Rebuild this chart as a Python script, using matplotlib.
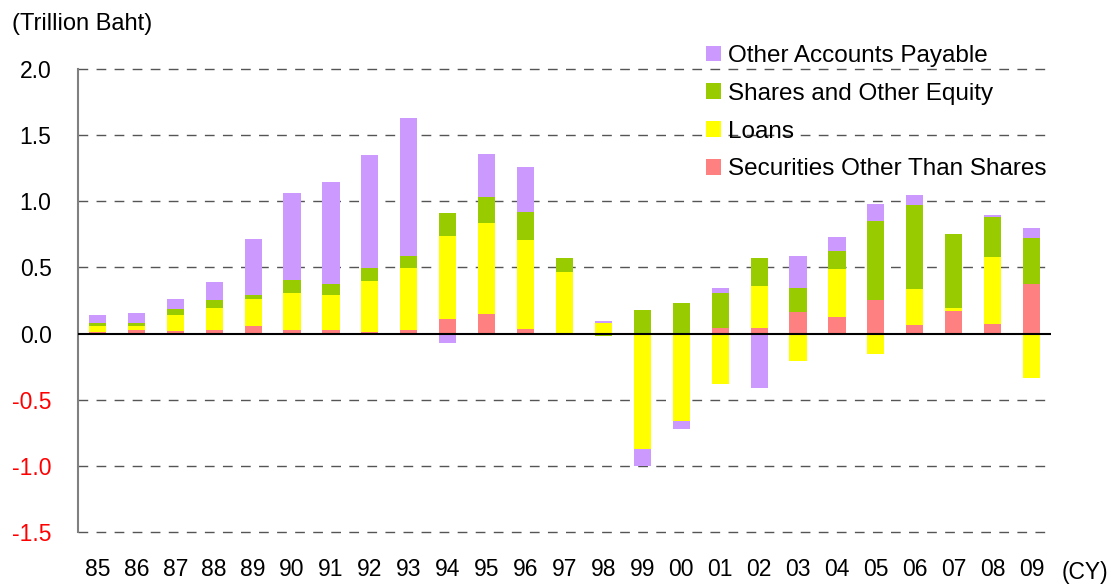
import matplotlib
matplotlib.use("Agg")
import matplotlib.pyplot as plt
import numpy as np

plt.rcParams['font.family'] = ['Liberation Sans', 'DejaVu Sans']

years = ["85", "86", "87", "88", "89", "90", "91", "92", "93", "94", "95", "96", "97",
         "98", "99", "00", "01", "02", "03", "04", "05", "06", "07", "08", "09"]

securities = [0.010, 0.025, 0.018, 0.025, 0.055, 0.025, 0.025, 0.010, 0.025, 0.108,
              0.150, 0.038, 0.000, 0.008, 0.000, 0.008, 0.040, 0.040, 0.160, 0.123,
              0.250, 0.062, 0.168, 0.070, 0.378]
loans = [0.045, 0.030, 0.120, 0.165, 0.210, 0.278, 0.263, 0.390, 0.473, 0.631,
         0.687, 0.671, 0.468, 0.075, -0.872, -0.662, -0.383, 0.316, -0.210, 0.367,
         -0.155, 0.272, 0.022, 0.511, -0.338]
shares = [0.023, 0.023, 0.045, 0.060, 0.023, 0.100, 0.085, 0.098, 0.090, 0.173,
          0.195, 0.211, 0.104, -0.020, 0.180, 0.225, 0.263, 0.217, 0.188, 0.136,
          0.602, 0.639, 0.564, 0.301, 0.346]
other = [0.060, 0.075, 0.082, 0.143, 0.428, 0.660, 0.772, 0.850, 1.040, -0.073,
         0.323, 0.338, 0.000, 0.015, -0.127, -0.060, 0.045, -0.410, 0.240, 0.105,
         0.128, 0.075, 0.000, 0.015, 0.076]

series = [
    ("Securities Other Than Shares", securities, "#FF8080"),
    ("Loans", loans, "#FFFF00"),
    ("Shares and Other Equity", shares, "#99CC00"),
    ("Other Accounts Payable", other, "#CC99FF"),
]

fig = plt.figure(figsize=(11.11, 5.87), dpi=100)
ax = fig.add_axes([0.0702, 0.0937, 0.8758, 0.7888])

x = np.arange(len(years))
pos_base = np.zeros(len(years))
neg_base = np.zeros(len(years))
handles = {}
for name, vals, col in series:
    v = np.array(vals, dtype=float)
    bottoms = np.where(v >= 0, pos_base, neg_base)
    b = ax.bar(x, v, width=0.44, bottom=bottoms, color=col, edgecolor='none',
               label=name, zorder=3)
    handles[name] = b
    pos_base += np.where(v >= 0, v, 0)
    neg_base += np.where(v < 0, v, 0)

ax.set_xlim(-0.5, len(years) - 0.5)
ax.set_ylim(-1.5, 2.0)
yticks = [-1.5, -1.0, -0.5, 0.0, 0.5, 1.0, 1.5, 2.0]
ax.set_yticks(yticks)
ax.set_yticklabels([f"{t:.1f}" for t in yticks], fontsize=16.5)
for lbl, t in zip(ax.get_yticklabels(), yticks):
    if t < 0:
        lbl.set_color('#FF0000')
ax.set_xticks(x)
ax.set_xticklabels(years, fontsize=16.5)
ax.tick_params(axis='both', length=0, pad=19)

for t in yticks:
    if t == 0:
        continue
    ax.axhline(t, color='#555555', lw=1.0, linestyle=(0, (7, 6)), zorder=1,
               clip_on=False)
ax.axhline(0, color='black', lw=1.5, zorder=4)

for s in ['top', 'right', 'bottom']:
    ax.spines[s].set_visible(False)
ax.spines['left'].set_color('#808080')
ax.spines['left'].set_linewidth(1.5)

order = ["Other Accounts Payable", "Shares and Other Equity", "Loans",
         "Securities Other Than Shares"]
fig.legend([handles[n] for n in order], order, loc='upper left',
           bbox_to_anchor=(706 / 1111, 1 - 45 / 587), frameon=False,
           fontsize=17.5, handlelength=0.62, handleheight=0.62, handletextpad=0.3,
           labelspacing=0.65, borderpad=0, borderaxespad=0)

fig.text(12 / 1111, 1 - 24 / 587, "(Trillion Baht)", fontsize=17, va='center', ha='left')
fig.text(1062 / 1111, 1 - 573 / 587, "(CY)", fontsize=16.5, va='center', ha='left')

fig.savefig("out.png", dpi=100)
